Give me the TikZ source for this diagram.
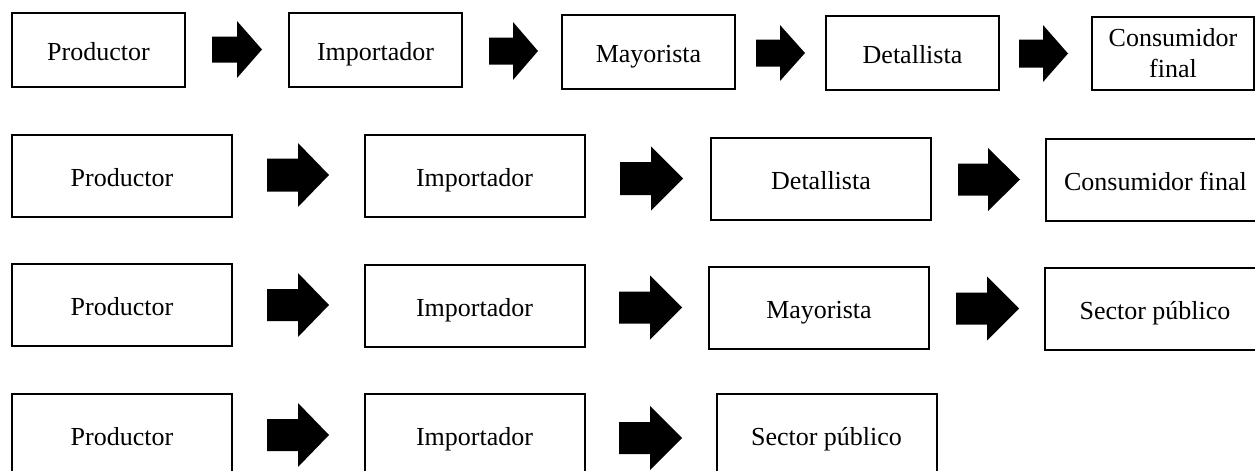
\documentclass[tikz,border=0pt]{standalone}
\usepackage{fontspec}
\setmainfont{Liberation Serif}
\newcommand{\blockarr}[6]{\fill[barrow] (#1,{#4-#5}) -- (#2,{#4-#5}) -- (#2,{#4-#6}) -- (#3,#4) -- (#2,{#4+#6}) -- (#2,{#4+#5}) -- (#1,{#4+#5}) -- cycle;}
\begin{document}
\begin{tikzpicture}[x=0.5pt,y=-0.5pt,
  box/.style={draw, line width=1pt, inner sep=0pt, font=\fontsize{13}{15.5}\selectfont, text height=11pt, text depth=0.5pt},
  rowone/.style={box, minimum width=86.5pt, minimum height=37pt},
  rowonetwo/.style={draw, line width=1pt, inner sep=0pt, font=\fontsize{13}{15.5}\selectfont, align=center, minimum width=81pt, minimum height=36.5pt},
  rowrest/.style={box, minimum width=110pt, minimum height=41pt},
  barrow/.style={fill=black}]
\useasboundingbox (0,0) rectangle (1255,471);
\clip (0,0) rectangle (1255,471);
% Row 1
\node[rowone] (a1) at (98.5,50) {Productor};
\node[rowone] (b1) at (375.5,50) {Importador};
\node[rowone] (c1) at (648.5,52) {Mayorista};
\node[rowone] (d1) at (912.5,53) {Detallista};
\node[rowonetwo] (e1) at (1173,53.5) {Consumidor\\final};
\blockarr{212}{237}{262}{49.5}{13}{28.5}
\blockarr{489}{513}{538}{51}{13.5}{29}
\blockarr{756}{780}{805}{53}{13.5}{28}
\blockarr{1019}{1043}{1068}{53.5}{14}{28.5}
% Row 2
\node[rowrest] (a2) at (122,175.5) {Productor};
\node[rowrest] (b2) at (474.5,176) {Importador};
\node[rowrest] (d2) at (821,179) {Detallista};
\node[rowrest] (e2) at (1155.5,179.5) {Consumidor final};
\blockarr{267}{298}{329}{175}{16.5}{32}
\blockarr{620}{651}{683}{178.5}{16.5}{32}
\blockarr{958}{988}{1020}{179.5}{16}{31.5}
% Row 3
\node[rowrest] (a3) at (122,305) {Productor};
\node[rowrest] (b3) at (474.5,305.5) {Importador};
\node[rowrest] (c3) at (819,308) {Mayorista};
\node[rowrest] (s3) at (1155,308.5) {Sector público};
\blockarr{267}{298}{329}{305}{16}{32}
\blockarr{619}{650}{682}{307.5}{16}{32}
\blockarr{956}{987}{1019}{308.5}{16}{32}
% Row 4
\node[rowrest] (a4) at (122,435) {Productor};
\node[rowrest] (b4) at (474.5,435) {Importador};
\node[rowrest] (s4) at (826.5,434.5) {Sector público};
\blockarr{267}{298}{329}{435}{16}{32}
\blockarr{619}{650}{682}{438}{16}{32}
\end{tikzpicture}
\end{document}
